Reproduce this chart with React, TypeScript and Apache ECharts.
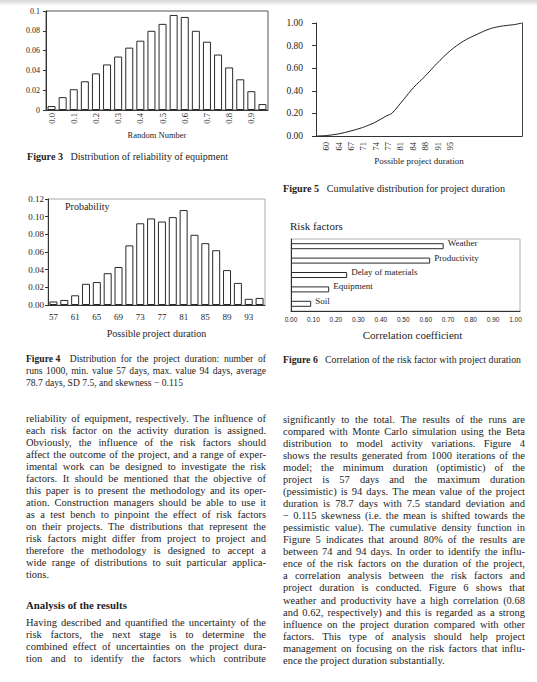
import React, { useEffect, useRef } from "react";
import * as echarts from "echarts";

// ---------- Figure 3: distribution of reliability of equipment ----------
const relTickLabels = ["0.0", "0.1", "0.2", "0.3", "0.4", "0.5", "0.6", "0.7", "0.8", "0.9"];
const relValues = [0.004, 0.013, 0.021, 0.029, 0.037, 0.046, 0.054, 0.063, 0.07, 0.08, 0.087, 0.096, 0.094, 0.08, 0.069, 0.056, 0.043, 0.031, 0.019, 0.006];

// ---------- Figure 4: distribution for the project duration ----------
const durTickLabels = ["57", "61", "65", "69", "73", "77", "81", "85", "89", "93"];
const durValues = [0.004, 0.0057, 0.011, 0.024, 0.026, 0.036, 0.043, 0.0675, 0.0925, 0.098, 0.0945, 0.0995, 0.1075, 0.0795, 0.07, 0.062, 0.0395, 0.025, 0.007, 0.008];

// ---------- Figure 5: cumulative distribution ----------
const cdfTickLabels = ["60", "64", "67", "71", "74", "77", "81", "84", "88", "91", "95"];
const cdfCategoryCount = 50;
const cdfPositions = [0, 2.5, 5.4, 8.5, 11.3, 14.3, 17.2, 18.4, 21.2, 23.7, 26.5, 29.3, 32.6, 35.8, 39.1, 42.3, 45.5, 48, 50];
const cdfValues = [0, 0.004, 0.018, 0.045, 0.075, 0.12, 0.18, 0.2, 0.32, 0.43, 0.53, 0.64, 0.755, 0.84, 0.9, 0.95, 0.975, 0.985, 1.0];

// ---------- Figure 6: correlation of risk factors ----------
const riskFactors = ["Weather", "Productivity", "Delay of materials", "Equipment", "Soil"];
const riskCorrelation = [0.68, 0.62, 0.25, 0.17, 0.09];

// ---------- Page text ----------
const leftPara1 = [
  "reliability of equipment, respectively. The influence of",
  "each risk factor on the activity duration is assigned.",
  "Obviously, the influence of the risk factors should",
  "affect the outcome of the project, and a range of exper-",
  "imental work can be designed to investigate the risk",
  "factors. It should be mentioned that the objective of",
  "this paper is to present the methodology and its oper-",
  "ation. Construction managers should be able to use it",
  "as a test bench to pinpoint the effect of risk factors",
  "on their projects. The distributions that represent the",
  "risk factors might differ from project to project and",
  "therefore the methodology is designed to accept a",
  "wide range of distributions to suit particular applica-",
  "tions.",
];
const heading = "Analysis of the results";
const leftPara2 = [
  "Having described and quantified the uncertainty of the",
  "risk factors, the next stage is to determine the",
  "combined effect of uncertainties on the project dura-",
  "tion and to identify the factors which contribute",
];
const rightPara = [
  "significantly to the total. The results of the runs are",
  "compared with Monte Carlo simulation using the Beta",
  "distribution to model activity variations. Figure 4",
  "shows the results generated from 1000 iterations of the",
  "model; the minimum duration (optimistic) of the",
  "project is 57 days and the maximum duration",
  "(pessimistic) is 94 days. The mean value of the project",
  "duration is 78.7 days with 7.5 standard deviation and",
  "\u2212 0.115 skewness (i.e. the mean is shifted towards the",
  "pessimistic value). The cumulative density function in",
  "Figure 5 indicates that around 80% of the results are",
  "between 74 and 94 days. In order to identify the influ-",
  "ence of the risk factors on the duration of the project,",
  "a correlation analysis between the risk factors and",
  "project duration is conducted. Figure 6 shows that",
  "weather and productivity have a high correlation (0.68",
  "and 0.62, respectively) and this is regarded as a strong",
  "influence on the project duration compared with other",
  "factors. This type of analysis should help project",
  "management on focusing on the risk factors that influ-",
  "ence the project duration substantially.",
];
const fig3Caption = "Distribution of reliability of equipment";
const fig5Caption = "Cumulative distribution for project duration";
const fig6Caption = "Correlation of the risk factor with project duration";
const fig4Caption = [
  "Distribution for the project duration: number of",
  "runs 1000, min. value 57 days, max. value 94 days, average",
  "78.7 days, SD 7.5, and skewness \u2212 0.115",
];

const SERIF = '"Liberation Serif", "DejaVu Serif", serif';
const SANS = '"Liberation Sans", Arial, sans-serif';
const INK = "#1e1e1e";
const LINE = "#333";

let mctx: CanvasRenderingContext2D | null = null;
function measure(s: string, size: number, bold = false): number {
  if (!mctx) mctx = document.createElement("canvas").getContext("2d");
  mctx!.font = `${bold ? "bold " : ""}${size}px ${SERIF}`;
  return mctx!.measureText(s).width;
}

function txt(s: string, x: number, y: number, size: number, bold = false, family = SERIF) {
  return {
    type: "text",
    x,
    y,
    silent: true,
    style: {
      text: s,
      fontSize: size,
      fontFamily: family,
      fontWeight: bold ? "bold" : "normal",
      fill: INK,
      align: "left",
      textAlign: "left",
      verticalAlign: "middle",
      textVerticalAlign: "middle",
    },
  };
}

type Tok = { t: string; b?: boolean };
function layoutLine(tokens: Tok[], x: number, y: number, width: number | null, size: number, out: any[]) {
  const sp = measure(" ", size);
  const ws = tokens.map((k) => measure(k.t, size, !!k.b));
  const tot = ws.reduce((a, b) => a + b, 0);
  const extras = tokens.map((k, i) => (k.b && i < tokens.length - 1 ? 2 * sp : 0));
  const extraTot = extras.reduce((a, b) => a + b, 0);
  let gap = sp;
  if (width != null && tokens.length > 1) gap = (width - tot - extraTot) / (tokens.length - 1);
  let cx = x;
  tokens.forEach((k, i) => {
    out.push(txt(k.t, cx, y, size, !!k.b));
    cx += ws[i] + gap + extras[i];
  });
}
const toks = (s: string): Tok[] => s.split(" ").map((t) => ({ t }));

function paragraph(lines: string[], x: number, y0: number, dy: number, width: number, size: number, lastJustified: boolean, out: any[]) {
  lines.forEach((l, i) => {
    const justify = i < lines.length - 1 || lastJustified;
    layoutLine(toks(l), x, y0 + i * dy, justify ? width : null, size, out);
  });
}

function fittedCaption(label: string, rest: string, x: number, y: number, targetW: number, out: any[]) {
  const base = 10;
  const natural = measure(label, base, true) + measure(rest, base) + 3 * measure(" ", base);
  const size = Math.max(8, Math.min(11, (base * targetW) / natural));
  layoutLine([{ t: label, b: true }, ...toks(rest)], x, y, targetW, size, out);
}

function buildOption() {
  const g: any[] = [];
  g.push({
    type: "rect",
    silent: true,
    shape: { x: 0, y: 0, width: 537, height: 6 },
    style: {
      fill: new echarts.graphic.LinearGradient(0, 0, 0, 1, [
        { offset: 0, color: "#d6d6d6" },
        { offset: 1, color: "#ffffff" },
      ]),
    },
  });
  fittedCaption("Figure 3", fig3Caption, 27, 156, 201, g);
  fittedCaption("Figure 5", fig5Caption, 283, 188, 222, g);
  fittedCaption("Figure 6", fig6Caption, 283, 359, 238, g);
  layoutLine([{ t: "Figure 4", b: true }, ...toks(fig4Caption[0])], 26, 358.5, 240, 9.6, g);
  layoutLine(toks(fig4Caption[1]), 26, 370.3, 240, 9.6, g);
  layoutLine(toks(fig4Caption[2]), 26, 382, null, 9.6, g);
  g.push(txt("Probability", 65, 206, 10));
  g.push(txt("Risk factors", 290, 226, 11));
  paragraph(leftPara1, 26, 418.3, 12, 240, 10.5, false, g);
  g.push(txt(heading, 26, 605, 10.8, true));
  paragraph(leftPara2, 26, 622.3, 12, 240, 10.5, true, g);
  paragraph(rightPara, 283, 419, 12.07, 242, 10.5, false, g);

  const relCats = relValues.map((_, i) => "r" + i);
  const durCats = durValues.map((_, i) => "d" + i);
  const cdfCats = Array.from({ length: cdfCategoryCount }, (_, i) => "c" + i);
  const cdfData = cdfPositions.map((p, i) => [p, cdfValues[i]]);

  const barStyle = { color: "#ffffff", borderColor: "#2a2a2a", borderWidth: 1 };

  return {
    animation: false,
    backgroundColor: "#ffffff",
    graphic: g,
    grid: [
      { left: 46, top: 11, width: 222, height: 99, show: true, borderColor: "#555", borderWidth: 1, backgroundColor: "transparent" },
      { left: 316, top: 23, width: 206, height: 113 },
      { left: 48, top: 199, width: 217, height: 106, show: true, borderColor: "#aaa", borderWidth: 1, backgroundColor: "transparent" },
      { left: 291, top: 239, width: 229, height: 72, show: true, borderColor: "#b0b0b0", borderWidth: 1, backgroundColor: "transparent" },
    ],
    xAxis: [
      {
        gridIndex: 0,
        type: "category",
        data: relCats,
        axisLine: { lineStyle: { color: LINE } },
        axisTick: { show: false },
        axisLabel: {
          interval: 0,
          rotate: 90,
          margin: 3,
          fontSize: 8.5,
          fontFamily: SERIF,
          color: INK,
          formatter: (_v: string, i: number) => (i % 2 === 0 ? relTickLabels[i / 2] : ""),
        },
        name: "Random Number",
        nameLocation: "middle",
        nameGap: 20,
        nameTextStyle: { fontSize: 8.5, fontFamily: SERIF, color: INK },
      },
      {
        gridIndex: 1,
        type: "category",
        data: cdfCats,
        boundaryGap: true,
        axisLine: { lineStyle: { color: LINE } },
        axisTick: { show: false },
        axisLabel: {
          interval: 0,
          rotate: 90,
          margin: 6,
          fontSize: 8.5,
          fontFamily: SERIF,
          color: INK,
          formatter: (_v: string, i: number) => {
            if (i < 2 || (i - 2) % 3 !== 0) return "";
            return cdfTickLabels[(i - 2) / 3] ?? "";
          },
        },
        name: "Possible project duration",
        nameLocation: "middle",
        nameGap: 20,
        nameTextStyle: { fontSize: 9, fontFamily: SERIF, color: INK },
      },
      { gridIndex: 1, type: "value", min: 0, max: cdfCategoryCount, show: false },
      {
        gridIndex: 2,
        type: "category",
        data: durCats,
        axisLine: { lineStyle: { color: LINE } },
        axisTick: { show: false },
        axisLabel: {
          interval: 0,
          margin: 7,
          fontSize: 9,
          fontFamily: SERIF,
          color: INK,
          formatter: (_v: string, i: number) => (i % 2 === 0 ? durTickLabels[i / 2] : ""),
        },
        name: "Possible project duration",
        nameLocation: "middle",
        nameGap: 23,
        nameTextStyle: { fontSize: 10, fontFamily: SERIF, color: INK },
      },
      {
        gridIndex: 3,
        type: "value",
        min: 0,
        max: 1.02,
        interval: 0.1,
        axisLine: { show: true, lineStyle: { color: LINE } },
        axisTick: { show: false },
        splitLine: { show: false },
        axisLabel: {
          margin: 5,
          fontSize: 6.5,
          fontFamily: SANS,
          color: INK,
          showMaxLabel: false,
          formatter: (v: number) => (v > 1.001 ? "" : v.toFixed(2)),
        },
        name: "Correlation coefficient",
        nameLocation: "middle",
        nameGap: 18,
        nameTextStyle: { fontSize: 11, fontFamily: SERIF, color: INK, padding: [0, 0, 0, 14] },
      },
    ],
    yAxis: [
      {
        gridIndex: 0,
        type: "value",
        min: 0,
        max: 0.1,
        interval: 0.02,
        axisLine: { show: true, lineStyle: { color: LINE } },
        axisTick: { show: true, length: 3, lineStyle: { color: LINE } },
        splitLine: { show: false },
        axisLabel: {
          margin: 6,
          fontSize: 8,
          fontFamily: SERIF,
          color: INK,
          formatter: (v: number) => (v === 0 ? "0" : v > 0.099 ? "0.1" : v.toFixed(2)),
        },
      },
      {
        gridIndex: 1,
        type: "value",
        min: 0,
        max: 1,
        interval: 0.2,
        axisLine: { show: true, lineStyle: { color: LINE } },
        axisTick: { show: true, length: 4, lineStyle: { color: LINE } },
        splitLine: { show: false },
        axisLabel: { margin: 13, fontSize: 9.5, fontFamily: SERIF, color: INK, formatter: (v: number) => v.toFixed(2) },
      },
      {
        gridIndex: 1,
        type: "value",
        position: "right",
        min: 0,
        max: 1,
        axisLine: { show: true, lineStyle: { color: "#444" } },
        axisTick: { show: false },
        axisLabel: { show: false },
        splitLine: { show: false },
      },
      {
        gridIndex: 2,
        type: "value",
        min: 0,
        max: 0.12,
        interval: 0.02,
        axisLine: { show: true, lineStyle: { color: LINE } },
        axisTick: { show: true, length: 3, lineStyle: { color: LINE } },
        splitLine: { show: false },
        axisLabel: { margin: 4, fontSize: 9, fontFamily: SERIF, color: INK, formatter: (v: number) => v.toFixed(2) },
      },
      {
        gridIndex: 3,
        type: "category",
        data: riskFactors,
        inverse: true,
        axisLine: { show: true, lineStyle: { color: LINE } },
        axisTick: { show: false },
        axisLabel: { show: false },
      },
    ],
    series: [
      { type: "bar", xAxisIndex: 0, yAxisIndex: 0, data: relValues, barWidth: 8, itemStyle: barStyle },
      {
        type: "line",
        xAxisIndex: 2,
        yAxisIndex: 1,
        data: cdfData,
        showSymbol: false,
        smooth: 0.3,
        lineStyle: { color: "#222", width: 1 },
      },
      { type: "bar", xAxisIndex: 3, yAxisIndex: 3, data: durValues, barWidth: 8, itemStyle: barStyle },
      {
        type: "bar",
        xAxisIndex: 4,
        yAxisIndex: 4,
        data: riskCorrelation,
        barWidth: 6,
        itemStyle: barStyle,
        label: {
          show: true,
          position: "right",
          distance: 4,
          offset: [0, -3],
          formatter: "{b}",
          fontSize: 9,
          fontFamily: SERIF,
          color: INK,
        },
      },
    ],
  };
}

export default function App() {
  const ref = useRef<HTMLDivElement>(null);
  useEffect(() => {
    const chart = echarts.init(ref.current!, null, { renderer: "svg" });
    chart.setOption(buildOption() as any);
    return () => chart.dispose();
  }, []);
  return (
    <div
      ref={ref}
      style={{ position: "absolute", left: 0, top: 0, width: 537, height: 682, background: "#fff" }}
    />
  );
}
